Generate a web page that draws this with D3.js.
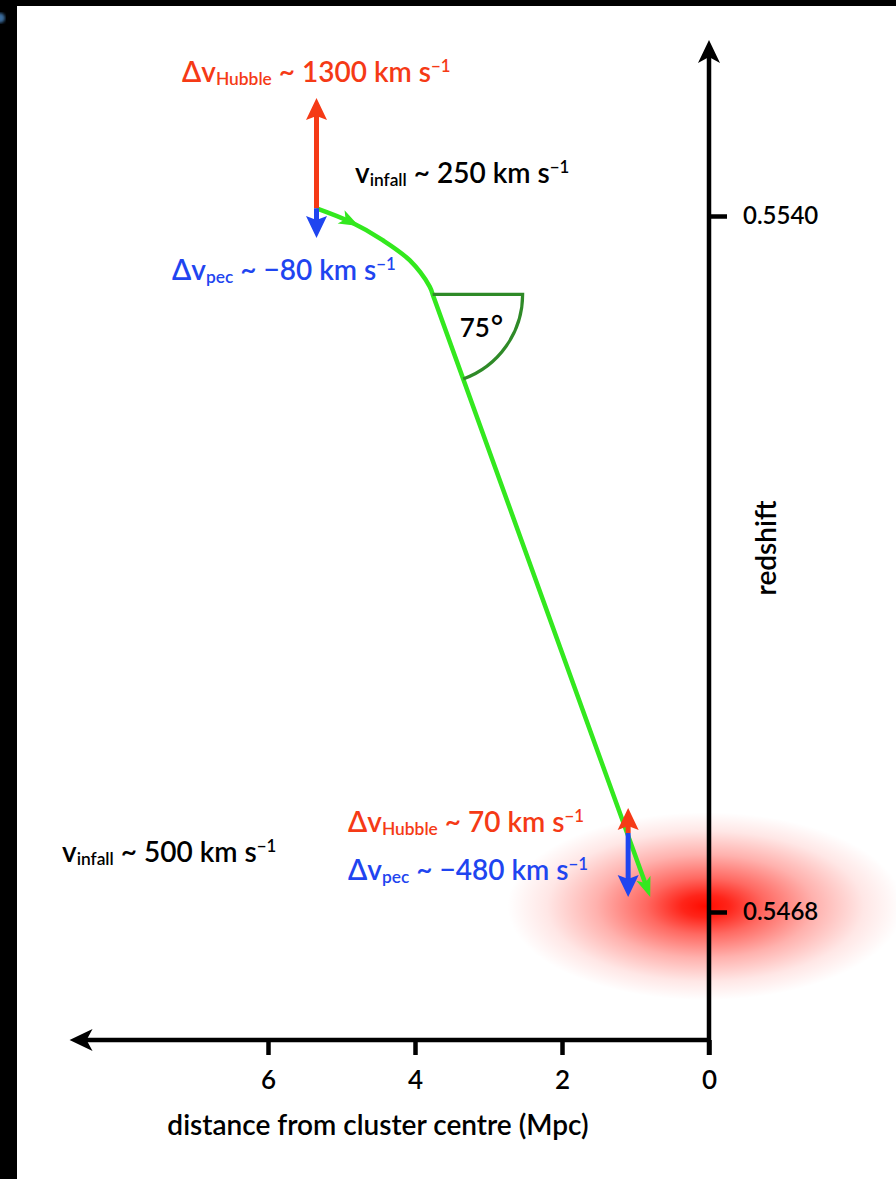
<!DOCTYPE html>
<html>
<head>
<meta charset="utf-8">
<script src="https://cdn.jsdelivr.net/npm/d3@7"></script>
<style>
  html, body { margin: 0; padding: 0; background: #000; }
  svg { display: block; }
  text { font-family: Lato, "Open Sans", sans-serif; font-weight: 600; }
</style>
</head>
<body>
<svg id="chart" width="896" height="1179"></svg>
<script>
// ---- data ----
const xTicks = [0, 2, 4, 6];
const yTicks = [0.5468, 0.5540];
const yTickLabels = ["0.5468", "0.5540"];
// trajectory of the infalling galaxy (distance in Mpc, redshift)
const curveDist = [5.34, 4.88, 4.44, 4.07, 3.80, 3.76];
const curveZ = [0.55408, 0.55394, 0.55375, 0.55354, 0.55327, 0.55319];
const infallEndDist = 0.80;
const infallEndZ = 0.546955;
const infallAngleLabel = "75";
// velocity components at the start and end of the trajectory
const vecDist = [5.34, 1.10];
const vecBaseZ = [0.55408, 0.547617];
const hubbleTipZ = [0.555221, 0.547876];
const pecTipZ = [0.553772, 0.546955];
const hubbleValues = ["1300", "70"];
const pecValues = ["\u221280", "\u2212480"];
const infallValues = ["250", "500"];
// cluster centre
const clusterDist = 0.05;
const clusterZ = 0.54686;
// axis extents
const xAxisMax = 8.7;
const zAxisMin = 0.545476;
const zAxisMax = 0.55582;

// ---- layout ----
const W = 896, H = 1179;
const svg = d3.select("#chart");
const x = d3.scaleLinear().domain([0, 6]).range([709, 268]);
const y = d3.scaleLinear().domain([0.5468, 0.5540]).range([912, 216]);

const RED = "#f53a16", BLUE = "#1f45f0", GREEN = "#33e81e", DKGREEN = "#2f8a28";
const FS = 28;

const defs = svg.append("defs");
const grad = defs.append("radialGradient").attr("id", "cluster");
[[0, 1], [0.12, 0.9], [0.3, 0.62], [0.55, 0.32], [0.8, 0.1], [1, 0]].forEach(([o, a]) => {
  grad.append("stop").attr("offset", o).attr("stop-color", "#ff0c00").attr("stop-opacity", a);
});
defs.append("filter").attr("id", "soft").append("feGaussianBlur").attr("stdDeviation", 1.5);

// frame
svg.append("rect").attr("width", W).attr("height", H).attr("fill", "#000");
svg.append("rect").attr("x", 17).attr("y", 6).attr("width", W - 17).attr("height", H - 6).attr("fill", "#fff");
svg.append("circle").attr("cx", 0).attr("cy", 18).attr("r", 5).attr("fill", "#3a6c9c").attr("filter", "url(#soft)");

// cluster glow
svg.append("ellipse")
  .attr("cx", x(clusterDist)).attr("cy", y(clusterZ))
  .attr("rx", 198).attr("ry", 94)
  .attr("fill", "url(#cluster)");

// arrowhead helper: tip at (tx,ty), pointing along angle (radians)
function head(g, tx, ty, ang, len, hw, notch, color) {
  const pts = [[0, 0], [-len, -hw], [-len + notch, 0], [-len, hw]];
  const c = Math.cos(ang), s = Math.sin(ang);
  const p = pts.map(([a, b]) => [tx + a * c - b * s, ty + a * s + b * c]);
  g.append("path").attr("d", "M" + p.map(q => q.join(",")).join("L") + "Z").attr("fill", color);
}

// ---- axes ----
const axG = svg.append("g");
const x0 = x(0), yBase = y(zAxisMin);
axG.append("line").attr("x1", x0).attr("y1", yBase).attr("x2", x(xAxisMax) + 14).attr("y2", yBase)
  .attr("stroke", "#000").attr("stroke-width", 4.5);
head(axG, x(xAxisMax), yBase, Math.PI, 23, 11, 6, "#000");
axG.append("line").attr("x1", x0).attr("y1", yBase + 15).attr("x2", x0).attr("y2", y(zAxisMax) + 14)
  .attr("stroke", "#000").attr("stroke-width", 4.5);
head(axG, x0, y(zAxisMax), -Math.PI / 2, 23, 11, 6, "#000");

const xAxis = svg.append("g").attr("transform", `translate(0,${yBase})`)
  .call(d3.axisBottom(x).tickValues(xTicks).tickSize(15).tickPadding(16).tickFormat(d3.format("d")));
xAxis.select(".domain").remove();
xAxis.selectAll(".tick line").attr("stroke", "#000").attr("stroke-width", 4.5);
xAxis.selectAll(".tick text").attr("font-size", 26).attr("fill", "#000")
  .style("font-family", "Lato, sans-serif").style("font-weight", 600);

const yAxis = svg.append("g").attr("transform", `translate(${x0},0)`)
  .call(d3.axisRight(y).tickValues(yTicks).tickSize(18).tickPadding(16).tickFormat((d, i) => yTickLabels[i]));
yAxis.select(".domain").remove();
yAxis.selectAll(".tick line").attr("stroke", "#000").attr("stroke-width", 4.5);
yAxis.selectAll(".tick text").attr("font-size", 24).attr("fill", "#000")
  .style("font-family", "Lato, sans-serif").style("font-weight", 600);

svg.append("text").attr("x", 378).attr("y", 1135).attr("text-anchor", "middle")
  .attr("font-size", 28).attr("fill", "#000").text("distance from cluster centre (Mpc)");
svg.append("text").attr("transform", `translate(776,548) rotate(-90)`).attr("text-anchor", "middle")
  .attr("font-size", 28).attr("fill", "#000").text("redshift");

// ---- trajectory ----
const curvePts = curveDist.map((d, i) => [x(d), y(curveZ[i])]);
const knee = curvePts[curvePts.length - 1];
const endPt = [x(infallEndDist), y(infallEndZ)];
const dirAng = Math.atan2(endPt[1] - knee[1], endPt[0] - knee[0]);
const shortEnd = [endPt[0] - 10 * Math.cos(dirAng), endPt[1] - 10 * Math.sin(dirAng)];
const line = d3.line().curve(d3.curveCatmullRom.alpha(0.5));
const trajD = line(curvePts) + `L${shortEnd[0]},${shortEnd[1]}`;
const traj = svg.append("path").attr("d", trajD).attr("fill", "none")
  .attr("stroke", GREEN).attr("stroke-width", 4.5);
head(svg, endPt[0], endPt[1], dirAng, 20, 7.5, 5, GREEN);
// direction arrow along the turn
const node = traj.node();
const L = 44;
const pA = node.getPointAtLength(L - 2), pB = node.getPointAtLength(L + 2);
head(svg, pB.x, pB.y, Math.atan2(pB.y - pA.y, pB.x - pA.x), 20, 7.5, 5, GREEN);

// infall angle marker
const R = 90;
const arcPath = d3.path();
arcPath.moveTo(knee[0], knee[1]);
arcPath.lineTo(knee[0] + R, knee[1]);
arcPath.arc(knee[0], knee[1], R, 0, dirAng, false);
svg.append("path").attr("d", arcPath.toString()).attr("fill", "none")
  .attr("stroke", DKGREEN).attr("stroke-width", 3.2);
const angT = svg.append("text").attr("x", knee[0] + 27).attr("y", knee[1] + 43)
  .attr("font-size", 26).attr("fill", "#000");
angT.append("tspan").text(infallAngleLabel);
angT.append("tspan").attr("font-size", 30).attr("dx", 1).text("\u00b0");

// ---- velocity components ----
vecDist.forEach((d, i) => {
  const vx = x(d), vb = y(vecBaseZ[i]);
  const th = y(hubbleTipZ[i]), tp = y(pecTipZ[i]);
  svg.append("line").attr("x1", vx).attr("y1", vb).attr("x2", vx).attr("y2", th + 14)
    .attr("stroke", RED).attr("stroke-width", 5);
  head(svg, vx, th, -Math.PI / 2, 22, 10.5, 4, RED);
  svg.append("line").attr("x1", vx).attr("y1", vb).attr("x2", vx).attr("y2", tp - 14)
    .attr("stroke", BLUE).attr("stroke-width", 5);
  head(svg, vx, tp, Math.PI / 2, 22, 10.5, 4, BLUE);
});

// ---- labels ----
function label(px, py, color, size, parts) {
  const t = svg.append("text").attr("x", px).attr("y", py).attr("fill", color).attr("font-size", size);
  parts.forEach(([str, kind]) => {
    const sp = t.append("tspan").text(str);
    if (kind === "sub") sp.attr("font-size", size * 0.62).attr("y", py + size * 0.12);
    else if (kind === "sup") sp.attr("font-size", size * 0.6).attr("y", py - size * 0.36);
    else sp.attr("y", py);
  });
}
const unit = (v) => [[` ~ ${v} km s`, ""], ["\u22121", "sup"]];
const labelPos = {
  hubble: [[182, 82], [348, 832]],
  pec: [[172, 280], [348, 880]],
  infall: [[355, 183], [62, 862]]
};
[0, 1].forEach(i => {
  label(...labelPos.hubble[i], RED, FS, [["\u0394v", ""], ["Hubble", "sub"], ...unit(hubbleValues[i])]);
  label(...labelPos.pec[i], BLUE, FS, [["\u0394v", ""], ["pec", "sub"], ...unit(pecValues[i])]);
  label(...labelPos.infall[i], "#000", FS, [["v", ""], ["infall", "sub"], ...unit(infallValues[i])]);
});
</script>
</body>
</html>
